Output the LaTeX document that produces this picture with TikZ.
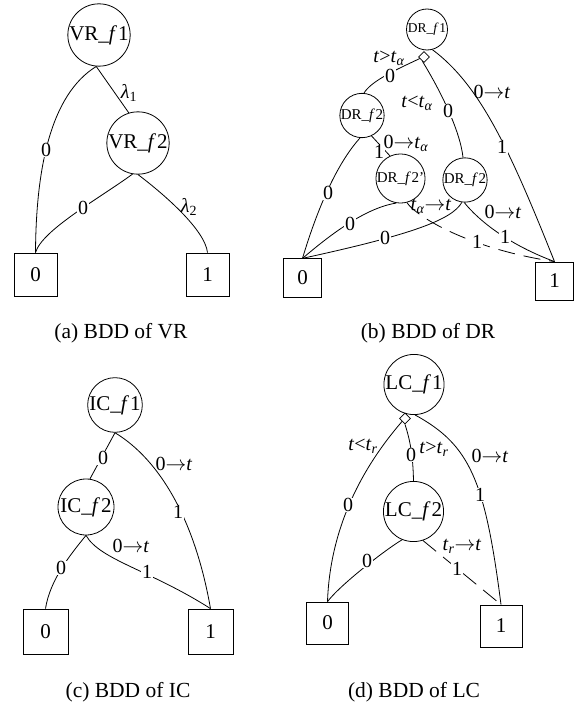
\documentclass[tikz,border=0pt]{standalone}
\usepackage{fontspec}
\setmainfont{Liberation Serif}
\usetikzlibrary{shapes.geometric}

\tikzset{
  fnt/.style={font=\fontsize{#1}{#1}\selectfont},
  bddnode/.style={draw, circle, inner sep=0pt, line width=0.8pt, minimum size=#1},
  leaf/.style={draw, rectangle, inner sep=0pt, line width=0.8pt, minimum size=#1, fnt=21},
  gate/.style={draw, diamond, inner sep=0pt, line width=0.8pt, minimum size=11pt},
  conn/.style={line width=0.8pt},
  dconn/.style={conn, dash pattern=on 17pt off 9pt},
  lab/.style={inner sep=0.6pt, fnt=20},
  onlab/.style={lab, fill=white},
  subcap/.style={fnt=21.5}
}

\begin{document}
\begin{tikzpicture}[x=1pt,y=-1pt]
\useasboundingbox (0,0) rectangle (575,706);

% ---------- (a) VR ----------
\node[bddnode=57pt, fnt=21] (a1) at (99,35) {VR\_\textit{f}\kern1pt 1};
\node[bddnode=58pt, fnt=21] (a2) at (138,143) {VR\_\textit{f}\kern1pt 2};
\node[leaf=43pt] (a0) at (35.5,274.5) {0};
\node[leaf=43pt] (aT) at (207.5,274.5) {1};
\draw[conn] (a1.-95) .. controls (50,95) and (36,170) .. (a0.north);
\draw[conn] (a1.-95) -- (a2.107);
\draw[conn] (a2.-100) .. controls (100,198) and (42,230) .. (a0.north);
\draw[conn] (a2.-90) .. controls (165,195) and (205,230) .. (aT.north);
\node[onlab] at (46,150) {0};
\node[onlab] at (83,208) {0};
\node[lab] at (129,93) {\textit{λ}\textsubscript{1}};
\node[lab] at (189,207) {\textit{λ}\textsubscript{2}};
\node[subcap] at (121,333) {(a) BDD of VR};

% ---------- (b) DR ----------
\node[bddnode=41pt, fnt=13.5] (b1) at (427,29.5) {DR\_\textit{f}\kern0.5pt 1};
\node[gate] (g1) at (424,57) {};
\node[bddnode=43pt, fnt=15] (b2) at (362,115.5) {DR\_\textit{f}\kern0.5pt 2};
\node[bddnode=44pt, fnt=15] (b3) at (400.5,178.5) {DR\_\textit{f}\kern0.5pt 2'};
\node[bddnode=42pt, fnt=15] (b4) at (465,180) {DR\_\textit{f}\kern0.5pt 2};
\node[leaf=38.5pt] (b0) at (302.5,278) {0};
\node[leaf=38pt] (bT) at (554.5,281) {1};
\draw[conn] (g1.200) .. controls (400,68) and (372,80) .. (b2.85);
\draw[conn] (g1.250) .. controls (440,90) and (460,130) .. (b4.95);
\draw[conn] (b1.-75) .. controls (480,85) and (510,150) .. (bT.north);
\draw[conn] (b2.-95) .. controls (340,160) and (320,200) .. (b0.north);
\draw[conn] (b2.-65) -- (b3.115);
\draw[conn] (b3.-100) .. controls (365,208) and (330,235) .. (b0.north);
\draw[dconn] (b3.-75) .. controls (415,215) and (465,248) .. (bT.north);
\draw[conn] (b4.-98) .. controls (452,220) and (410,235) .. (b0.north);
\draw[conn] (b4.-92) .. controls (480,222) and (510,245) .. (bT.north);
\node[onlab] at (390,76) {0};
\node[lab] at (389,58) {\textit{t}>\textit{t}\textsubscript{\textit{α}}};
\node[onlab] at (448,111) {0};
\node[lab] at (417,103) {\textit{t}<\textit{t}\textsubscript{\textit{α}}};
\node[onlab] at (502,147) {1};
\node[lab] at (492,92) {0$\rightarrow$\textit{t}};
\node[onlab] at (328,193) {0};
\node[onlab] at (379,152) {1};
\node[lab] at (406,143) {0$\rightarrow$\textit{t}\textsubscript{\textit{α}}};
\node[onlab] at (350,224) {0};
\node[onlab] at (385,238) {0};
\node[onlab] at (477,242) {1};
\node[lab] at (431,206) {\textit{t}\textsubscript{\textit{α}}$\rightarrow$\textit{t}};
\node[onlab] at (505,237) {1};
\node[lab] at (503,212) {0$\rightarrow$\textit{t}};
\node[subcap] at (428,333) {(b) BDD of DR};

% ---------- (c) IC ----------
\node[bddnode=54pt, fnt=21] (c1) at (115,405) {IC\_\textit{f}\kern1pt 1};
\node[bddnode=56pt, fnt=21] (c2) at (86,507) {IC\_\textit{f}\kern1pt 2};
\node[leaf=45pt] (c0) at (45.5,631.5) {0};
\node[leaf=45pt] (cT) at (210.5,631.5) {1};
\draw[conn] (c1.south) -- (c2.82);
\draw[conn] (c1.south) .. controls (160,460) and (195,520) .. (cT.north);
\draw[conn] (c2.south) .. controls (70,555) and (50,580) .. (c0.north);
\draw[conn] (c2.south) .. controls (100,560) and (150,570) .. (cT.north);
\node[onlab] at (103,458) {0};
\node[lab] at (174,464) {0$\rightarrow$\textit{t}};
\node[onlab] at (178,512) {1};
\node[onlab] at (61,568) {0};
\node[lab] at (131,546) {0$\rightarrow$\textit{t}};
\node[onlab] at (147,572) {1};
\node[subcap] at (128,692) {(c) BDD of IC};

% ---------- (d) LC ----------
\node[bddnode=56pt, fnt=21] (d1) at (414,384.5) {LC\_\textit{f}\kern1pt 1};
\node[gate] (g2) at (405,418.5) {};
\node[bddnode=59pt, fnt=21] (d2) at (413.5,511.5) {LC\_\textit{f}\kern1pt 2};
\node[leaf=42pt] (d0) at (327.5,623) {0};
\node[leaf=42pt] (dT) at (501,626) {1};
\draw[conn] (g2.225) .. controls (360,470) and (330,530) .. (d0.north);
\draw[conn] (g2.south) .. controls (410,440) and (413,455) .. (d2.north);
\draw[conn] (d1.-88) .. controls (470,445) and (485,480) .. (dT.north);
\draw[conn] (d2.-112) .. controls (385,550) and (340,585) .. (d0.north);
\draw[dconn] (d2.-72) -- (dT.north);
\node[onlab] at (348,505) {0};
\node[lab] at (363,446) {\textit{t}<\textit{t}\textsubscript{\textit{r}}};
\node[onlab] at (411,455) {0};
\node[lab] at (434,449) {\textit{t}>\textit{t}\textsubscript{\textit{r}}};
\node[onlab] at (480,495) {1};
\node[lab] at (490,456) {0$\rightarrow$\textit{t}};
\node[onlab] at (367,561) {0};
\node[onlab] at (457,569) {1};
\node[lab] at (462,546) {\textit{t}\textsubscript{\textit{r}}$\rightarrow$\textit{t}};
\node[subcap] at (414,692) {(d) BDD of LC};
\end{tikzpicture}
\end{document}
